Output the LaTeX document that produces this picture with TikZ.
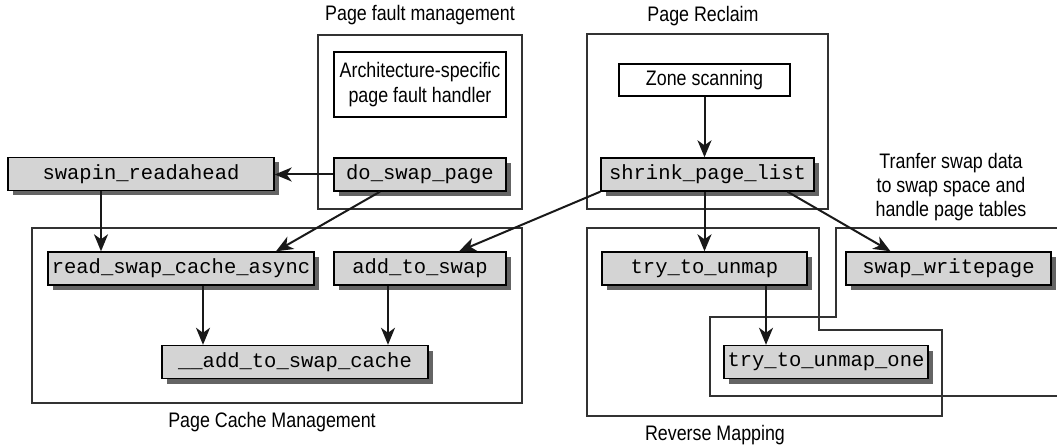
\documentclass[tikz,border=0pt]{standalone}
\usepackage{fontspec}
\setmainfont{Liberation Sans}
\newfontfamily\condfont[FakeStretch=0.85]{Liberation Sans}
\newfontfamily\monofnt{Liberation Mono}
\usetikzlibrary{shadows,arrows.meta}
\definecolor{boxgray}{RGB}{212,212,212}
\definecolor{shadowgray}{RGB}{100,100,100}
\definecolor{framegray}{RGB}{50,50,50}
\tikzset{
  fn/.style={draw=black, line width=1.4pt, fill=boxgray, inner sep=0pt,
    minimum height=33pt, font=\monofnt\fontsize{20.5}{24}\selectfont,
    drop shadow={shadow xshift=5pt, shadow yshift=-5pt, fill=shadowgray, opacity=1}},
  plain/.style={draw=black, line width=1.2pt, fill=white, inner sep=0pt,
    font=\condfont\fontsize{21}{25}\selectfont, align=center},
  frame/.style={draw=framegray, line width=1.1pt},
  lab/.style={font=\condfont\fontsize{21}{24}\selectfont, align=center, inner sep=0pt},
  arr/.style={-{Stealth[length=17pt,width=14pt,inset=5pt]}, line width=2pt, draw=black!90}
}
\begin{document}
\begin{tikzpicture}[x=1pt,y=-1pt]
\useasboundingbox (0,0) rectangle (1057,446);
% containers
\draw[frame] (318,35) rectangle (522,209);
\draw[frame] (587,34) rectangle (828,209);
\draw[frame] (32,228) rectangle (522,403);
\draw[frame] (587,228) -- (819,228) -- (819,330) -- (942,330) -- (942,416) -- (587,416) -- cycle;
\draw[frame] (1057,228) -- (836,228) -- (836,317) -- (710,317) -- (710,396) -- (1057,396);
% labels
\node[lab] (tpf) at (420,15) {Page fault management};
\node[lab] (tpr) at (703,16) {Page Reclaim};
\node[lab] (tpc) at (272,422) {Page Cache Management};
\node[lab] (trm) at (715,435) {Reverse Mapping};
\node[lab] (tsw) at (951,187) {Tranfer swap data\\to swap space and\\handle page tables};
% plain boxes
\node[plain, minimum width=172pt, minimum height=65pt] (arch) at (420,84.5) {Architecture-specific\\page fault handler};
\node[plain, minimum width=171pt, minimum height=32pt] (zone) at (704.5,80) {Zone scanning};
% function boxes
\node[fn, minimum width=266pt] (swapin) at (141,174) {swapin\_readahead};
\node[fn, minimum width=172pt] (dosp) at (420,174.5) {do\_swap\_page};
\node[fn, minimum width=213pt] (shrink) at (707.5,174.5) {shrink\_page\_list};
\node[fn, minimum width=266pt] (rsca) at (181,268.5) {read\_swap\_cache\_async};
\node[fn, minimum width=172pt] (ats) at (420,268.5) {add\_to\_swap};
\node[fn, minimum width=266pt] (aasc) at (295,362) {\_\_add\_to\_swap\_cache};
\node[fn, minimum width=205pt] (ttu) at (704.5,268.5) {try\_to\_unmap};
\node[fn, minimum width=205pt] (swp) at (948.5,268.5) {swap\_writepage};
\node[fn, minimum width=204pt] (ttuo) at (826,362) {try\_to\_unmap\_one};
% connectors
\draw[arr] (zone.south) -- (zone.south |- shrink.north);
\draw[arr] (dosp.west) -- (swapin.east |- dosp.west);
\draw[arr] ([xshift=-40pt]swapin.south) -- ([xshift=-40pt]swapin.south |- rsca.north);
\draw[arr] ([xshift=-40pt]dosp.south) -- ([xshift=95pt]rsca.north);
\draw[arr] (shrink.south west) -- ([xshift=39pt]ats.north);
\draw[arr] ([xshift=80pt]shrink.south) -- ([xshift=-58pt]swp.north);
\draw[arr] (ttu.north |- shrink.south) -- (ttu.north);
\draw[arr] ([xshift=22pt]rsca.south) -- ([xshift=22pt]rsca.south |- aasc.north);
\draw[arr] ([xshift=-32pt]ats.south) -- ([xshift=-32pt]ats.south |- aasc.north);
\draw[arr] ([xshift=61.5pt]ttu.south) -- ([xshift=61.5pt]ttu.south |- ttuo.north);
\end{tikzpicture}
\end{document}
